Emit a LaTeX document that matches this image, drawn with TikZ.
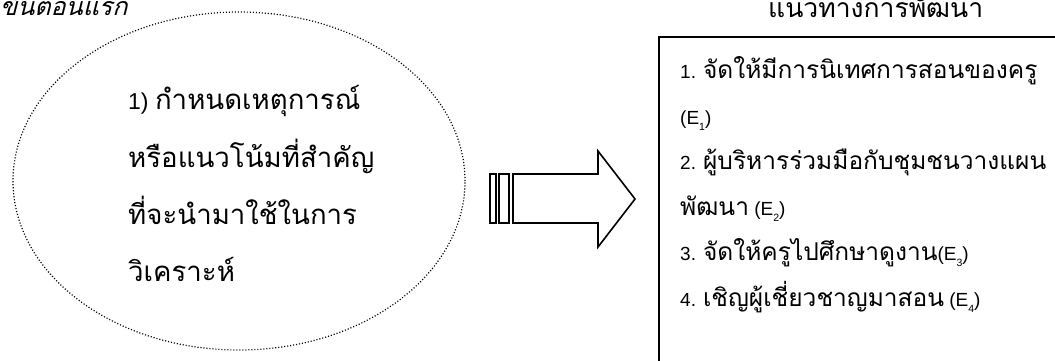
\documentclass[tikz,border=0pt]{standalone}
\usepackage{fontspec}
\setmainfont{Liberation Sans}
\newfontfamily\thai[Script=Thai,Scale=1.29]{Loma}
\newfontfamily\thaie[Script=Thai,Scale=1.2]{Loma}
\newfontfamily\thaisl[Script=Thai,FakeSlant=0.25]{Loma}
\newfontfamily\thait[Script=Thai]{Loma}
\usetikzlibrary{shapes.geometric}
\newcommand\subs[1]{\raisebox{-0.35em}{\fontsize{10.5}{10.5}\selectfont #1}}
\begin{document}
\begin{tikzpicture}[x=1pt,y=-1pt,
  ellip/.style={ellipse, draw, line width=1.2pt, dash pattern=on 1.1pt off 1.9pt, inner sep=0pt},
  etext/.style={anchor=base west, inner sep=0pt, font=\fontsize{23}{23}\selectfont},
  btext/.style={anchor=base west, inner sep=0pt, font=\fontsize{19}{19}\selectfont},
  ttext/.style={anchor=base west, inner sep=0pt, font=\fontsize{25}{25}\selectfont},
  outline/.style={draw, line width=1.6pt, line join=miter},
  framebox/.style={draw, line width=2pt, inner sep=0pt, anchor=north west}]
\useasboundingbox (0,0) rectangle (1055,360);
\clip (0,0) rectangle (1055,360);
% titles
\node[ttext] (t1) at (0,15) {\thaisl ขั้นตอนแรก};
\node[ttext, font=\fontsize{26.5}{26.5}\selectfont] (t2) at (768,17) {\thait แนวทางการพัฒนา};
% ellipse
\node[ellip, minimum width=452pt, minimum height=338pt] (circ) at (239,181) {};
\node[etext] (e1) at (128,109) {1) {\thaie กำหนดเหตุการณ์}};
\node[etext] (e2) at (128,167) {\thaie หรือแนวโน้มที่สำคัญ};
\node[etext] (e3) at (128,224) {\thaie ที่จะนำมาใช้ในการ};
\node[etext] (e4) at (128,281) {\thaie วิเคราะห์};
% arrow
\draw[outline] (513,174) -- (598,174) -- (598,151) -- (635,199) -- (598,247) -- (598,223) -- (513,223) -- cycle;
\draw[outline] (490,174) rectangle (496,223);
\draw[outline] (499,174) rectangle (509,223);
% box
\node[framebox, minimum width=500pt, minimum height=400pt] (box) at (658,35.5) {};
\node[btext] (b1) at (680,78) {1. {\thai จัดให้มีการนิเทศการสอนของครู}};
\node[btext] (b2) at (680,124) {(E\subs{1})};
\node[btext] (b3) at (680,169) {2. {\thai ผู้บริหารร่วมมือกับชุมชนวางแผน}};
\node[btext] (b4) at (680,215) {{\thai พัฒนา} (E\subs{2})};
\node[btext] (b5) at (680,260) {3. {\thai จัดให้ครูไปศึกษาดูงาน}(E\subs{3})};
\node[btext] (b6) at (680,306) {4. {\thai เชิญผู้เชี่ยวชาญมาสอน} (E\subs{4})};
\end{tikzpicture}
\end{document}
